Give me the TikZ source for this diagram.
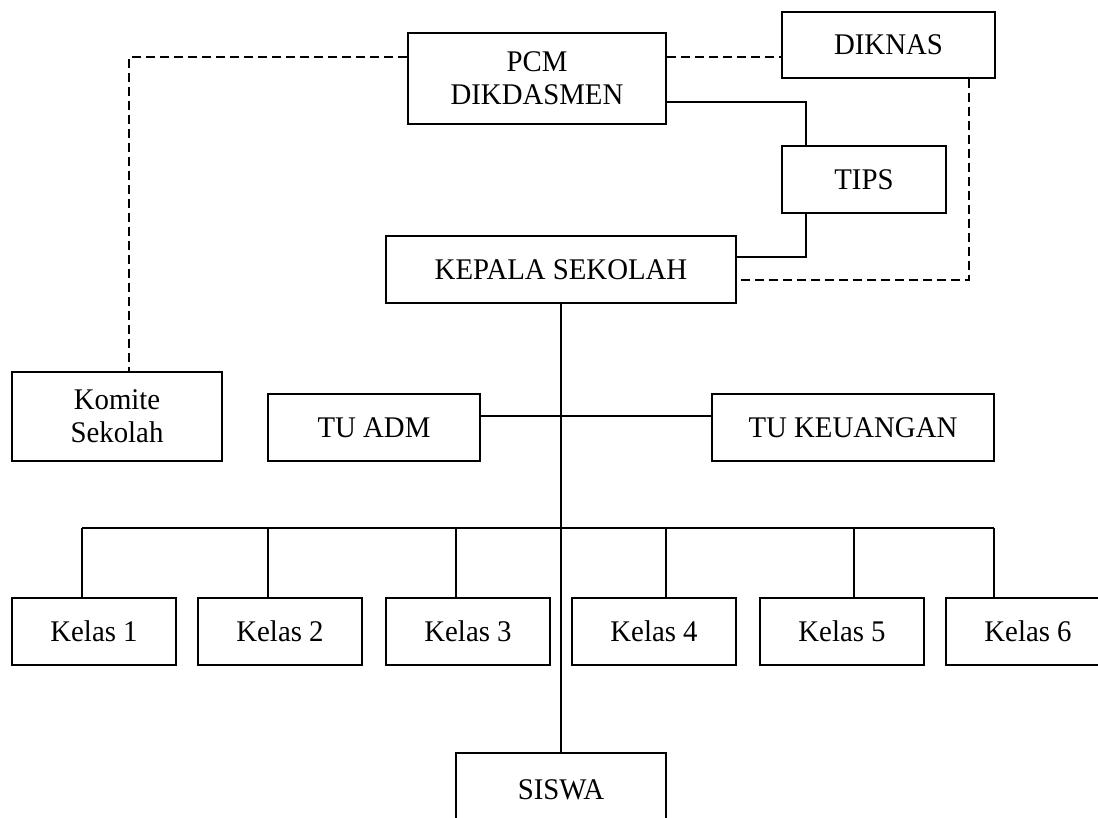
\documentclass[tikz,border=0pt]{standalone}
\usepackage{fontspec}
\setmainfont{Liberation Serif}[FakeStretch=0.96]
\usepackage{tikz}
\usepackage{xcolor}
\tikzset{kotak/.style={draw,line width=2pt,inner sep=0pt,align=center,font=\fontsize{30}{33}\selectfont}}
\tikzset{garis/.style={line width=2pt}}
\tikzset{putus/.style={line width=2pt,dash pattern=on 9pt off 5pt}}

\begin{document}
\begin{tikzpicture}[x=1pt,y=-1pt]
            \useasboundingbox (0,0) rectangle (1098,817);
            % draw the boxes
            \node[kotak,minimum width=258pt,minimum height=91pt] (pcm) at (537,78.5) {PCM\\DIKDASMEN};
            \node[kotak,minimum width=213pt,minimum height=66pt] (diknas) at (888.5,45) {DIKNAS};
            \node[kotak,minimum width=164pt,minimum height=67pt] (tips) at (864,179.5) {TIPS};
            \node[kotak,minimum width=350pt,minimum height=67pt] (kepsek) at (561,269.5) {KEPALA SEKOLAH};
            \node[kotak,minimum width=210pt,minimum height=89pt] (komite) at (117,416.5) {Komite\\Sekolah};
            \node[kotak,minimum width=212pt,minimum height=67pt] (tuadm) at (374,427.5) {TU ADM};
            \node[kotak,minimum width=282pt,minimum height=67pt] (tukeu) at (853,427.5) {TU KEUANGAN};
            \node[kotak,minimum width=210pt,minimum height=74pt] (siswa) at (561,790) {SISWA};
            \foreach \i/\x in {1/94,2/280,3/468,4/654,5/842,6/1028}
                \node[kotak,minimum width=164pt,minimum height=67pt] (k\i) at (\x,631.5) {Kelas \i};

            % draw the dashed lines
            \coordinate (kd) at (129,57);
            \coordinate (dk) at (969,280);
            \draw[putus] (pcm.west |- kd) -- (kd) -- (kd |- komite.north);
            \draw[putus] (pcm.east |- kd) -- (diknas.west |- kd);
            \draw[putus] (diknas.south -| dk) |- (kepsek.east |- dk);

            % draw the solid lines
            \coordinate (pt) at (806,102);
            \coordinate (tk) at (806,257);
            \draw[garis] (pcm.east |- pt) -| (tips.north -| pt);
            \draw[garis] (tips.south -| tk) |- (kepsek.east |- tk);
            \draw[garis] (kepsek.south) -- (siswa.north);
            \coordinate (tu) at (561,416);
            \draw[garis] (tuadm.east |- tu) -- (tukeu.west |- tu);

            % draw the bus to the classes
            \foreach \i/\x in {1/82,2/268,3/456,4/666,5/854,6/994}
                \coordinate (bus\i) at (\x,528);
            \draw[garis] (bus1) -- (bus6);
            \foreach \i in {1,...,6}
                \draw[garis] (bus\i) -- (bus\i |- k\i.north);
        \end{tikzpicture}
\end{document}
